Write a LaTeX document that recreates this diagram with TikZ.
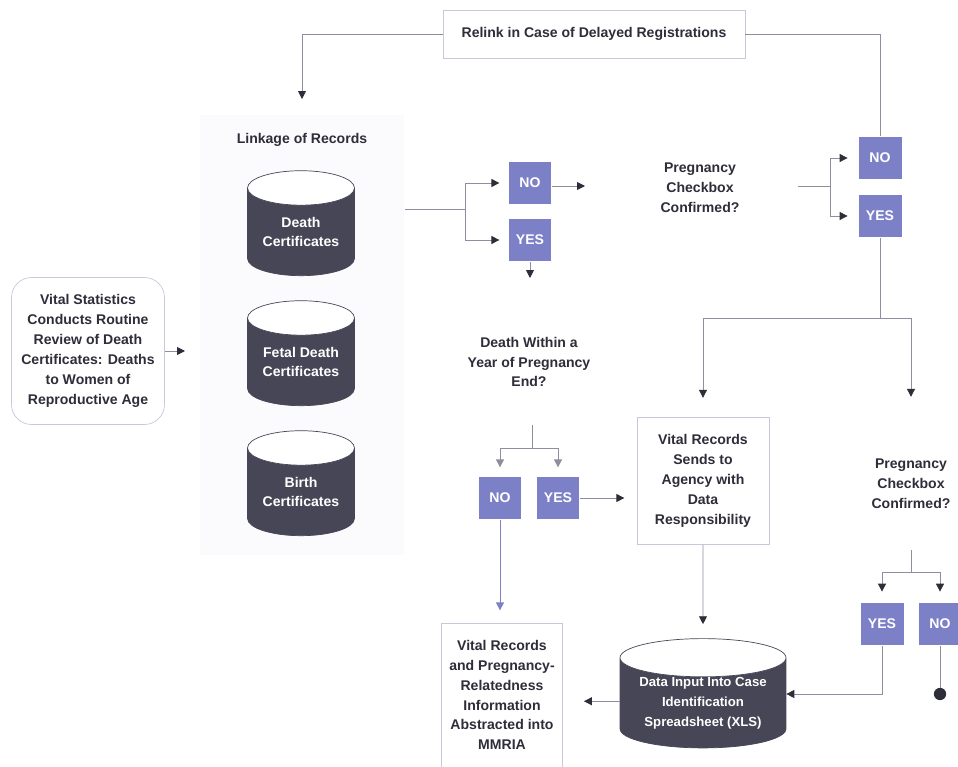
\documentclass[tikz,border=0pt]{standalone}
\usepackage{fontspec}
\setmainfont{Liberation Sans}
\usetikzlibrary{shapes.geometric,arrows.meta,positioning,calc}
\definecolor{boxline}{HTML}{C8C8DA}
\definecolor{cylfill}{HTML}{474656}
\definecolor{choice}{HTML}{7C80C6}
\definecolor{wire}{HTML}{8E8E9E}
\definecolor{ink}{HTML}{2E2D3A}
\definecolor{groupbg}{HTML}{FBFBFE}
\tikzset{
	lbl/.style={font=\fontsize{8}{11.3}\selectfont\bfseries, text=ink, align=center},
	plainbox/.style={lbl, draw=boxline, fill=white, inner sep=0pt},
	choicebox/.style={lbl, text=white, fill=choice, minimum width=0.86cm, minimum height=0.86cm, inner sep=0pt},
	store/.style={lbl, text=white, cylinder, shape border rotate=90, aspect=0.45, draw=cylfill,
		cylinder uses custom fill, cylinder body fill=cylfill, cylinder end fill=white, inner sep=0pt},
	link/.style={draw=wire, line width=0.5pt, -{Triangle[length=4.5pt,width=4.5pt,color=ink]}},
	greylink/.style={link, -{Triangle[length=4.5pt,width=4.5pt,color=wire]}},
	wire/.style={draw=wire, line width=0.5pt}
}
\begin{document}
\begin{tikzpicture}[x=0.02cm, y=-0.02cm]
	\useasboundingbox (0,0) rectangle (958,767);
	% linkage group
	\node[fill=groupbg, minimum width=4.1cm, minimum height=8.8cm] (linkage) at (302,335) {};
	\node[lbl] (linktitle) at (302,140) {Linkage of Records};
	\node[store, minimum width=2.14cm, minimum height=2.1cm] (death) at (301,232) {Death\\Certificates};
	\node[store, minimum width=2.14cm, minimum height=2.1cm] (fetal) at (301,362) {Fetal Death\\Certificates};
	\node[store, minimum width=2.14cm, minimum height=2.1cm] (birth) at (301,492) {Birth\\Certificates};
	% boxes
	\node[plainbox, minimum width=6.04cm, minimum height=0.96cm] (relink) at (594,34) {Relink in Case of Delayed Registrations};
	\node[plainbox, rounded corners=0.4cm, minimum width=3.06cm, minimum height=2.94cm] (vitalstats) at (88,351)
		{Vital Statistics\\Conducts Routine\\Review of Death\\Certificates: Deaths\\to Women of\\Reproductive Age};
	\node[plainbox, minimum width=2.64cm, minimum height=2.54cm] (vrsend) at (703,481)
		{Vital Records\\Sends to\\Agency with\\Data\\Responsibility};
	\node[plainbox, minimum width=2.42cm, minimum height=2.88cm] (mmria) at (502,695)
		{Vital Records\\and Pregnancy-\\Relatedness\\Information\\Abstracted into\\MMRIA};
	\node[store, aspect=0.3, minimum width=3.32cm, minimum height=2.14cm, font=\fontsize{7.5}{11.3}\selectfont\bfseries] (data) at (703,703)
		{Data Input Into Case\\Identification\\Spreadsheet (XLS)};
	% questions
	\node[lbl] (preg1) at (700,188) {Pregnancy\\Checkbox\\Confirmed?};
	\node[lbl] (within) at (529,362) {Death Within a\\Year of Pregnancy\\End?};
	\node[lbl] (preg2) at (911,484) {Pregnancy\\Checkbox\\Confirmed?};
	% yes / no
	\node[choicebox] (dcno) at (530,183) {NO};
	\node[choicebox] (dcyes) at (530,240) {YES};
	\node[choicebox] (ckno) at (880,158) {NO};
	\node[choicebox] (ckyes) at (880,216) {YES};
	\node[choicebox] (midno) at (500,498) {NO};
	\node[choicebox] (midyes) at (558,498) {YES};
	\node[choicebox] (lowyes) at (882,624) {YES};
	\node[choicebox] (lowno) at (940,624) {NO};
	% fork points and free ends
	\coordinate (fork1) at (465,209);
	\coordinate (fork2) at (830,186);
	\coordinate (fork3) at (880,318);
	\coordinate (fork4) at (532,448);
	\coordinate (fork5) at (911,572);
	\coordinate (linkin) at (302,99);
	\coordinate (vsout) at (185,351);
	\coordinate (yesdown) at (530,278);
	\coordinate (noright) at (585,186);
	\coordinate (stop) at (940,694);
	% connectors
	\draw[link] (relink.west) -| (linkin);
	\draw[wire] (relink.east) -| (ckno.north);
	\draw[link] (vitalstats.east) -- (vsout);
	\draw[wire] (linkage.east |- fork1) -- (fork1);
	\foreach \n in {dcno, dcyes}
		\draw[link, shorten >=5pt] (fork1) |- (\n.west);
	\draw[link] (dcno.east |- noright) -- (noright);
	\draw[link] (dcyes.south) -- (yesdown);
	\draw[wire, shorten <=30pt] (preg1.east |- fork2) -- (fork2);
	\foreach \n in {ckno, ckyes}
		\draw[link, shorten >=6pt] (fork2) |- (\n.west);
	\draw[wire] (ckyes.south) -- (fork3);
	\draw[link, shorten >=11pt] (fork3) -| (vrsend.north);
	\draw[link, shorten >=32pt] (fork3) -| (preg2.north);
	\draw[wire, shorten <=18pt] (within.south -| fork4) -- (fork4);
	\foreach \n in {midno, midyes}
		\draw[greylink, shorten >=5pt] (fork4) -| (\n.north);
	\draw[link, shorten >=7pt] (midyes.east) -- (vrsend.west |- midyes.east);
	\draw[link, draw=choice, -{Triangle[length=4.5pt,width=4.5pt,color=choice]}, shorten >=7pt] (midno.south) -- (mmria.north -| midno.south);
	\draw[link, shorten >=8pt] (vrsend.south) -- (data.north);
	\draw[link, shorten >=12pt] ([yshift=1pt]data.west) -- ([yshift=1pt]data.west -| mmria.east);
	\draw[wire, shorten <=20pt] (preg2.south -| fork5) -- (fork5);
	\foreach \n in {lowyes, lowno}
		\draw[link, shorten >=6pt] (fork5) -| (\n.north);
	\draw[link] (lowyes.south) |- (data.east |- stop);
	\draw[wire] (lowno.south) -- (stop);
	\fill[ink] (stop) circle (3.5pt);
\end{tikzpicture}
\end{document}
